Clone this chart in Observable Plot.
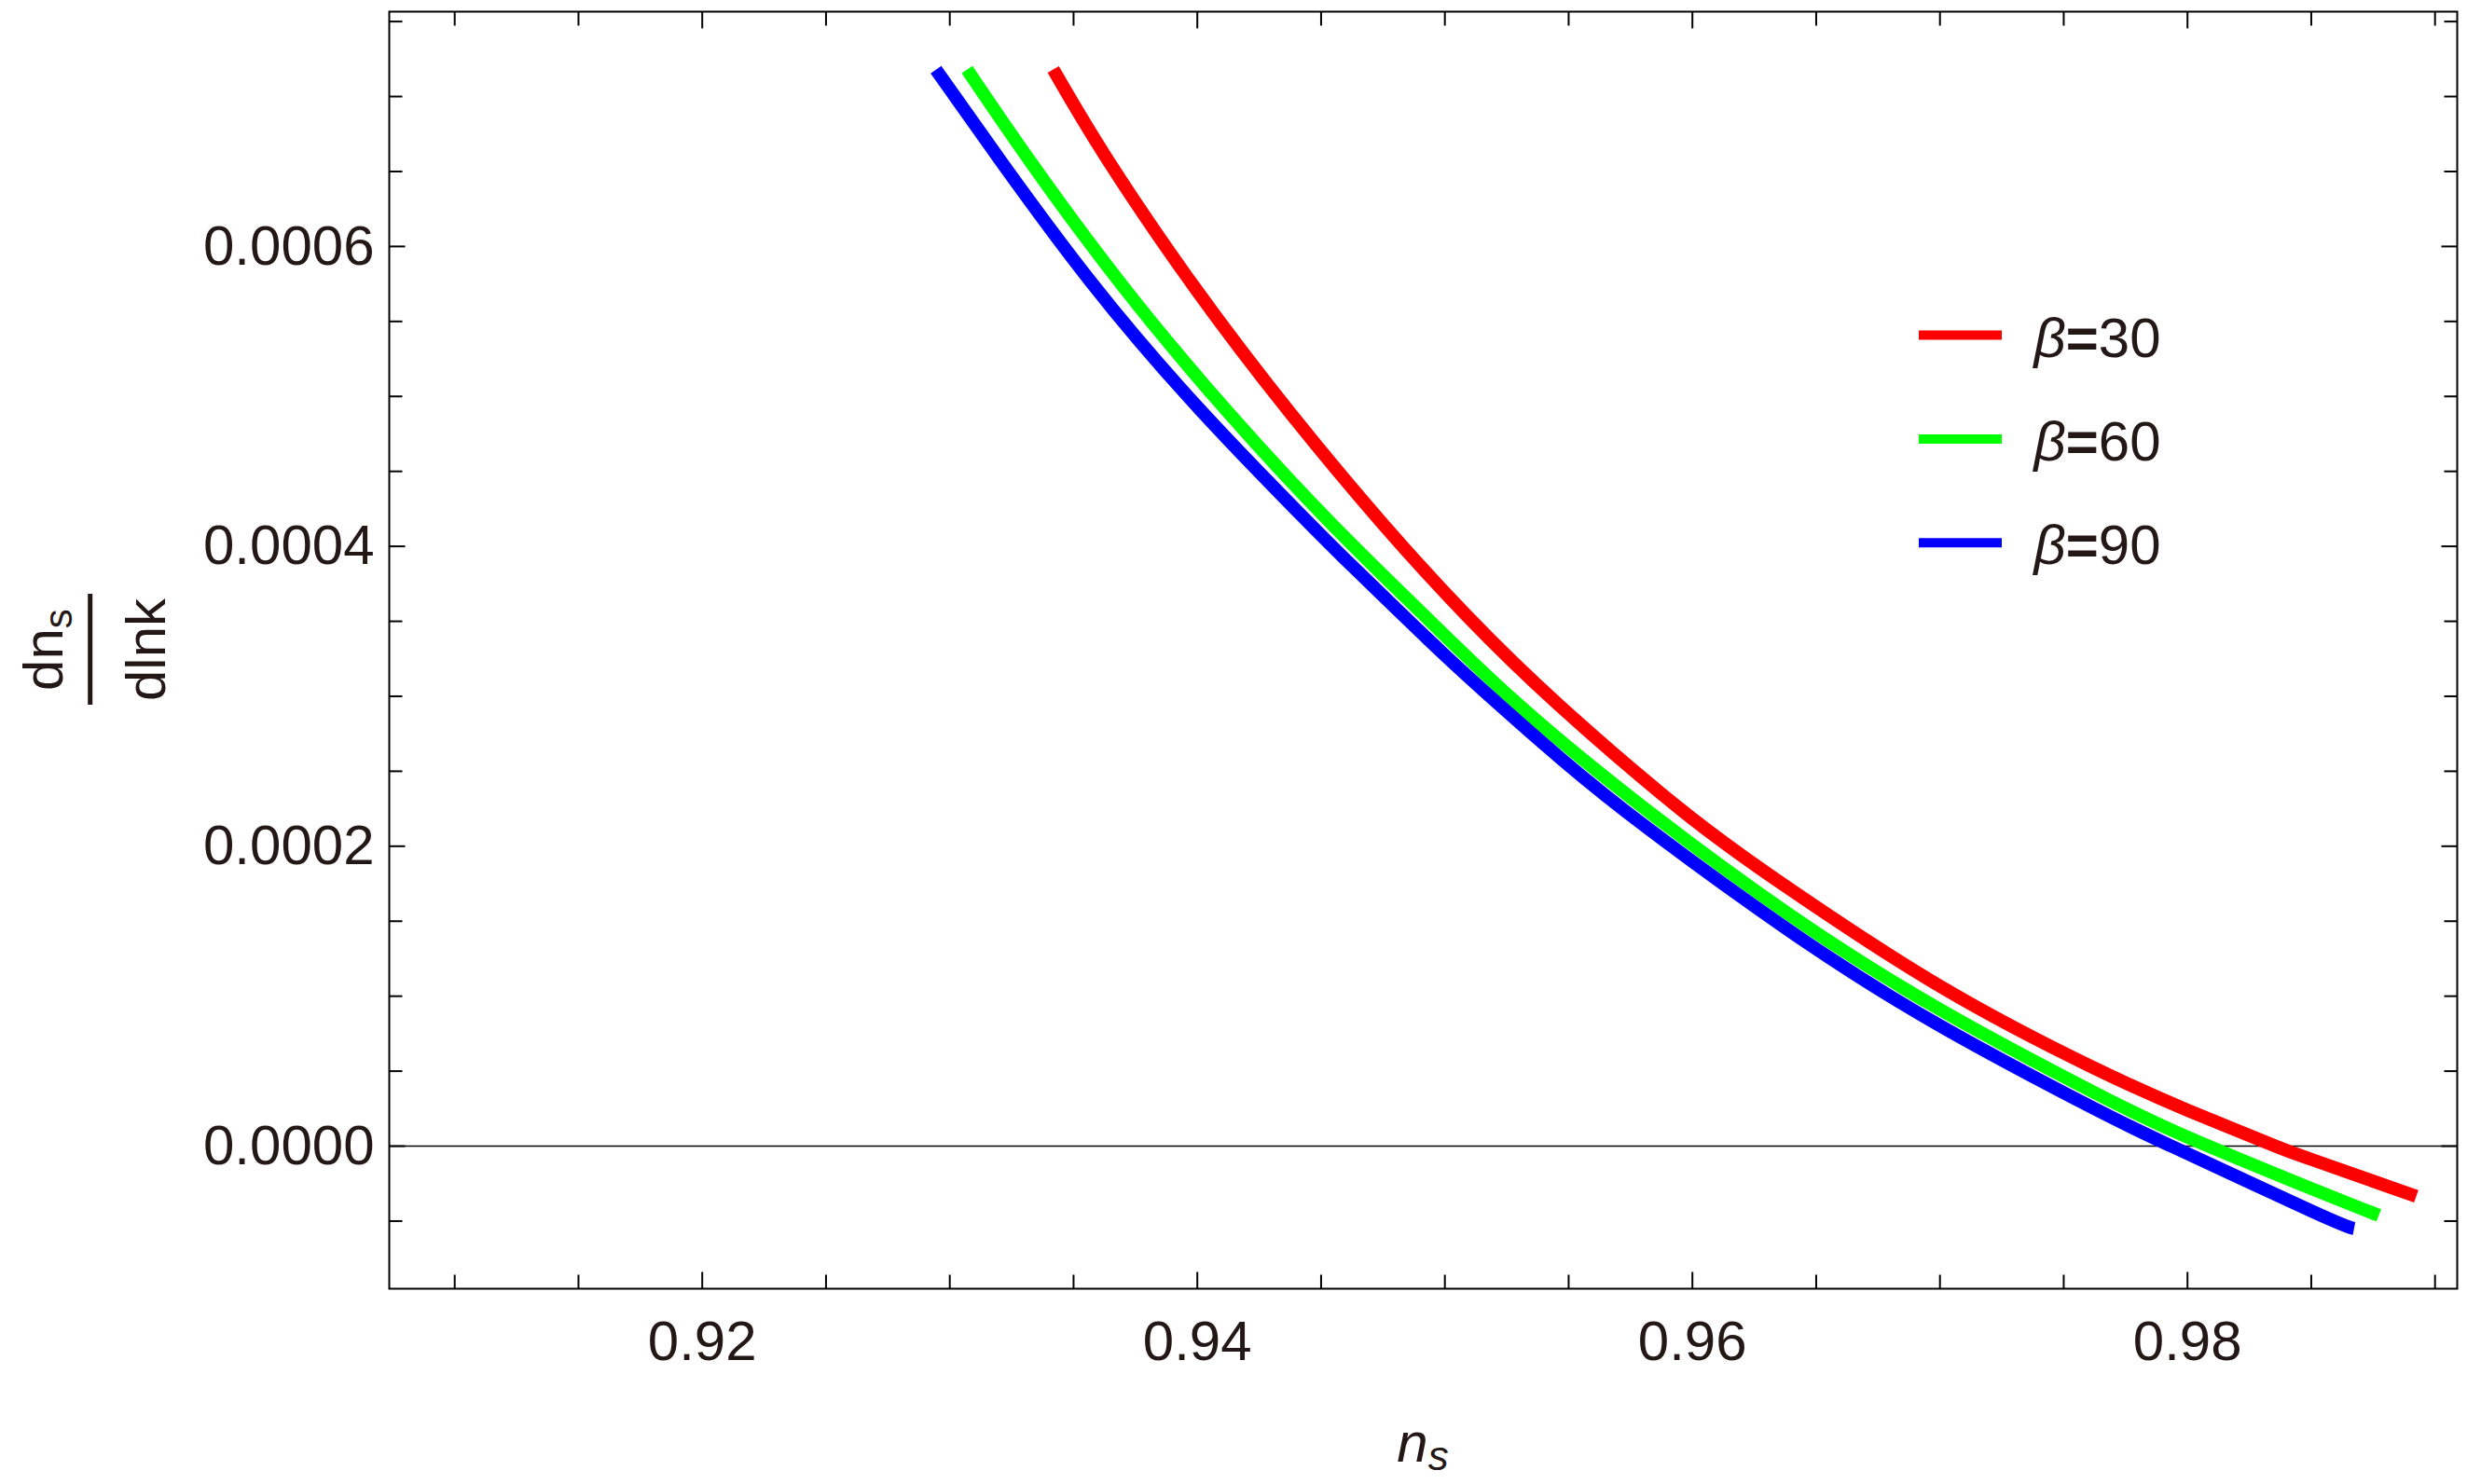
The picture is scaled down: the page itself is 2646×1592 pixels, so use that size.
<!DOCTYPE html>
<html>
<head>
<meta charset="utf-8">
<script src="https://cdn.jsdelivr.net/npm/d3@7"></script>
<script src="https://cdn.jsdelivr.net/npm/@observablehq/plot@0.6"></script>
<style>
html, body { margin: 0; padding: 0; background: #fff; }
#chart svg { display: block; }
</style>
</head>
<body>
<div id="chart"></div>
<script>
// ---- data ----
const betas = [30, 60, 90];
const colors = ["#ff0000", "#00ff00", "#0000ff"];

const nsRed = [0.93418, 0.93635, 0.93986, 0.94375, 0.94752, 0.95090, 0.95465, 0.95957, 0.96384, 0.97012, 0.97624, 0.98000, 0.98355, 0.98503, 0.98924];
const dnRed = [0.000718, 0.0006585, 0.0005734, 0.000489, 0.0004145, 0.0003535, 0.0002935, 0.000224, 0.0001725, 0.0001055, 0.000052, 0.000024, 0, -0.000009, -0.0000335];

const nsGreen = [0.93070, 0.93327, 0.93697, 0.94124, 0.94551, 0.94935, 0.95280, 0.95756, 0.96384, 0.97012, 0.97624, 0.98000, 0.98503, 0.98773];
const dnGreen = [0.000718, 0.0006563, 0.000574, 0.0004895, 0.0004135, 0.000351, 0.000297, 0.0002318, 0.0001553, 0.00009, 0.0000357, 0.000006, -0.0000285, -0.0000462];

const nsBlue = [0.92944, 0.93208, 0.93567, 0.94011, 0.94466, 0.94625, 0.95003, 0.95380, 0.95731, 0.96384, 0.97012, 0.97624, 0.97935, 0.98503, 0.98673];
const dnBlue = [0.0007179, 0.0006565, 0.000577, 0.0004912, 0.000413, 0.000387, 0.000327, 0.000271, 0.0002232, 0.0001446, 0.0000792, 0.000025, 0, -0.0000434, -0.000055];

const xMajor = [0.92, 0.94, 0.96, 0.98];
const xMinor = [0.91, 0.915, 0.925, 0.93, 0.935, 0.945, 0.95, 0.955, 0.965, 0.97, 0.975, 0.985, 0.99];
const yMajor = [0, 0.0002, 0.0004, 0.0006];
const yMinor = [-0.00005, 0.00005, 0.0001, 0.00015, 0.00025, 0.0003, 0.00035, 0.00045, 0.0005, 0.00055, 0.00065, 0.0007, 0.00075];

// ---- build table ----
const seriesNs = [nsRed, nsGreen, nsBlue];
const seriesDn = [dnRed, dnGreen, dnBlue];
const rows = betas.flatMap((b, i) => seriesNs[i].map((x, j) => ({beta: b, ns: x, dn: seriesDn[i][j]})));

const ink = "#231815";
const font = "'Liberation Sans', Arial, Helvetica, sans-serif";
const W = 2646, H = 1592;
const mL = 417, mR = 11, mT = 12, mB = 210;

const majorLen = -17.5, minorLen = -14.5;
const tickBase = {stroke: "#000", strokeWidth: 2, label: null};

const chart = Plot.plot({
  width: W,
  height: H,
  marginLeft: mL,
  marginRight: mR,
  marginTop: mT,
  marginBottom: mB,
  style: {fontFamily: font, background: "#fff", color: ink},
  x: {domain: [0.907356, 0.990896]},
  y: {domain: [-0.0000951, 0.0007566]},
  color: {domain: betas, range: colors},
  marks: [
    Plot.ruleY([0], {stroke: "#000", strokeWidth: 1.6}),
    Plot.line(rows, {x: "ns", y: "dn", z: "beta", stroke: "beta", strokeWidth: 14, strokeLinecap: "butt", strokeLinejoin: "round", curve: "natural"}),
    Plot.frame({stroke: "#000", strokeWidth: 2}),
    Plot.axisX({...tickBase, anchor: "bottom", ticks: xMajor, tickSize: majorLen, tickPadding: 51.4, tickFormat: d3.format(".2f"), fontSize: 60, fill: ink}),
    Plot.axisX({...tickBase, anchor: "bottom", ticks: xMinor, tickSize: minorLen, fill: "none"}),
    Plot.axisX({...tickBase, anchor: "top", ticks: xMajor, tickSize: majorLen, fill: "none"}),
    Plot.axisX({...tickBase, anchor: "top", ticks: xMinor, tickSize: minorLen, fill: "none"}),
    Plot.axisY({...tickBase, anchor: "left", ticks: yMajor, tickSize: majorLen, tickPadding: 33.5, tickFormat: d3.format(".4f"), fontSize: 60, fill: ink}),
    Plot.axisY({...tickBase, anchor: "left", ticks: yMinor, tickSize: minorLen, fill: "none"}),
    Plot.axisY({...tickBase, anchor: "right", ticks: yMajor, tickSize: majorLen, fill: "none"}),
    Plot.axisY({...tickBase, anchor: "right", ticks: yMinor, tickSize: minorLen, fill: "none"})
  ]
});

document.getElementById("chart").appendChild(chart);

// ---- labels and legend ----
const svg = d3.select(chart);
const plotMidY = (mT + (H - mB)) / 2;
const plotMidX = (mL + (W - mR)) / 2;

// y-axis label: fraction dn_s / dlnk, rotated
const gy = svg.append("g")
  .attr("transform", `translate(96.7,${plotMidY}) rotate(-90)`)
  .attr("fill", ink)
  .attr("font-family", font);
const num = gy.append("text").attr("x", 0).attr("y", -30).attr("text-anchor", "middle").attr("font-size", 60);
num.append("tspan").text("dn");
num.append("tspan").attr("font-size", 42).attr("dy", 10).text("s");
gy.append("line").attr("x1", -59).attr("x2", 60).attr("y1", 0).attr("y2", 0).attr("stroke", ink).attr("stroke-width", 5);
gy.append("text").attr("x", 0).attr("y", 80).attr("text-anchor", "middle").attr("font-size", 60).text("dlnk");

// x-axis label n_s
const xl = svg.append("text")
  .attr("x", plotMidX).attr("y", 1568)
  .attr("text-anchor", "middle")
  .attr("font-size", 60)
  .attr("font-style", "italic")
  .attr("fill", ink)
  .attr("font-family", font);
xl.append("tspan").text("n");
xl.append("tspan").attr("font-size", 44).attr("dy", 9).text("s");

// legend
const lg = svg.append("g").attr("font-family", font).attr("text-anchor", "start");
betas.forEach((b, i) => {
  const yy = 359.5 + 111.4 * i;
  lg.append("line").attr("x1", 2058).attr("x2", 2147).attr("y1", yy).attr("y2", yy)
    .attr("stroke", colors[i]).attr("stroke-width", 10);
  const t = lg.append("text").attr("x", 2181.5).attr("y", yy + 23).attr("font-size", 60)
    .attr("fill", ink).attr("text-anchor", "start");
  t.append("tspan").attr("font-style", "italic").text("β");
  t.append("tspan").attr("font-weight", "bold").text("=");
  t.append("tspan").text(String(b));
});
</script>
</body>
</html>
